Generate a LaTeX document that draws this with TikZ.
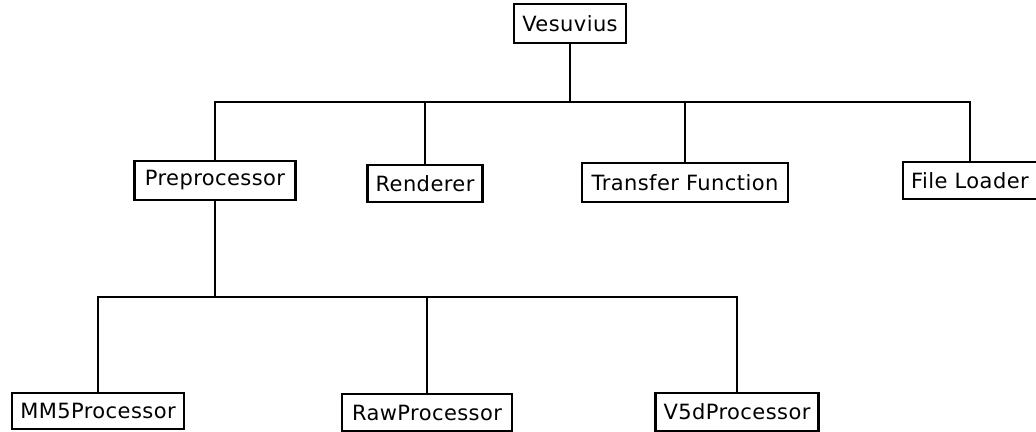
\documentclass[tikz,border=0pt]{standalone}
\usepackage{fontspec}
\setmainfont{DejaVu Sans}[LetterSpace=2]
\begin{document}
\begin{tikzpicture}[x=1pt,y=1pt,
  box/.style={draw=black, line width=2.2pt, fill=white, inner sep=0pt, font=\fontsize{21}{23}\selectfont},
  link/.style={draw=black, line width=2.2pt}]
\useasboundingbox (0,0) rectangle (1036,-431);
% nodes
\node[box, minimum width=112pt, minimum height=39pt] (ves) at (570,-23.5) {Vesuvius};
\node[box, minimum width=161pt, minimum height=39pt] (pre) at (215,-180.5) {Preprocessor};
\node[box, minimum width=115pt, minimum height=37pt] (ren) at (425,-183.5) {Renderer};
\node[box, minimum width=206pt, minimum height=39pt] (tf) at (685,-182.5) {Transfer Function};
\node[box, minimum width=134pt, minimum height=37pt] (fl) at (970,-180.5) {File Loader};
\node[box, minimum width=172pt, minimum height=36pt] (mm5) at (98,-411) {MM5Processor};
\node[box, minimum width=170pt, minimum height=37pt] (raw) at (427,-412.5) {RawProcessor};
\node[box, minimum width=163pt, minimum height=38pt] (v5d) at (737,-412) {V5dProcessor};
% connectors
\coordinate (busA) at (570,-102);
\coordinate (busB) at (215,-297);
\draw[link] (ves.south) -- (busA);
\draw[link] (busA) -| (pre.north);
\draw[link] (busA) -| (ren.north);
\draw[link] (busA) -| (tf.north);
\draw[link] (busA) -| (fl.north);
\draw[link] (pre.south) -- (busB);
\draw[link] (busB) -| (mm5.north);
\draw[link] (busB) -| (raw.north);
\draw[link] (busB) -| (v5d.north);
\end{tikzpicture}
\end{document}
